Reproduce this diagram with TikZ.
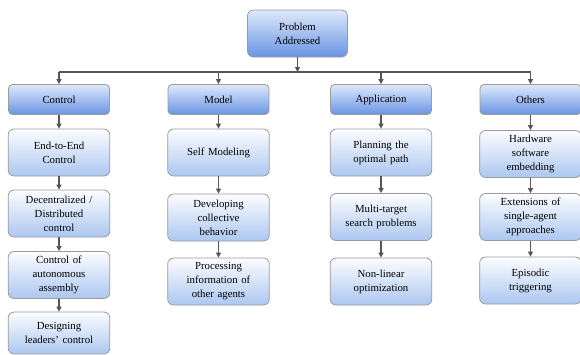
\documentclass[tikz,border=0pt]{standalone}
\usepackage{fontspec}
\setmainfont{Liberation Serif}
\usepackage{tikz}
\usetikzlibrary{arrows.meta, positioning, calc}
\definecolor{boxline}{RGB}{155, 155, 155}
\definecolor{arrowgray}{RGB}{85, 85, 85}
\definecolor{cattop}{RGB}{222, 233, 250}
\definecolor{catbot}{RGB}{105, 148, 228}
\definecolor{itemtop}{RGB}{252, 253, 255}
\definecolor{itembot}{RGB}{172, 199, 240}

\begin{document}
\begin{tikzpicture}[x=1pt, y=-1pt,
        catbox/.style={draw=boxline, line width=0.8pt, rounded corners=4pt, top color=cattop, bottom color=catbot, minimum width=101pt, minimum height=30pt, align=center, font=\fontsize{10.8}{14}\selectfont},
        itembox/.style={draw=boxline, line width=0.8pt, rounded corners=6pt, top color=itemtop, bottom color=itembot, minimum width=101pt, minimum height=47pt, text width=95pt, align=center, font=\fontsize{10.8}{14}\selectfont},
        link/.style={draw=arrowgray, line width=1.1pt, -{Triangle[length=5pt, width=5pt]}}]
        \useasboundingbox (0,0) rectangle (580,354);

        % Root
        \node[catbox, minimum width=100pt, minimum height=47pt, rounded corners=6pt] (root) at (297.5,33.5) {Problem\\Addressed};
        \coordinate (jn) at (297.5,72);

        % Categories
        \node[catbox] (control) at (59,99.5) {Control};
        \node[catbox] (model) at (218.5,99.5) {Model};
        \node[catbox] (appl) at (381,99.5) {Application};
        \node[catbox] (others) at (530.5,99.5) {Others};

        % Control column
        \node[itembox] (c1) at (59,152.5) {End-to-End\\Control};
        \node[itembox] (c2) at (59,213.5) {Decentralized /\\Distributed\\control};
        \node[itembox] (c3) at (59,275) {Control of\\autonomous\\assembly};
        \node[itembox, minimum height=42pt] (c4) at (59,333) {Designing\\leaders' control};

        % Model column
        \node[itembox] (m1) at (218.5,152.5) {Self Modeling};
        \node[itembox] (m2) at (218.5,217.5) {Developing\\collective\\behavior};
        \node[itembox] (m3) at (218.5,281.5) {Processing\\information of\\other agents};

        % Application column
        \node[itembox] (a1) at (381,152.5) {Planning the\\optimal path};
        \node[itembox] (a2) at (381,217) {Multi-target\\search problems};
        \node[itembox] (a3) at (381,281.5) {Non-linear\\optimization};

        % Others column
        \node[itembox] (o1) at (530.5,154) {Hardware\\software\\embedding};
        \node[itembox] (o2) at (530.5,217) {Extensions of\\single-agent\\approaches};
        \node[itembox] (o3) at (530.5,280.5) {Episodic\\triggering};

        % Tree links
        \draw[link] (root) -- (jn);
        \draw[draw=arrowgray, line width=1.1pt] (control |- jn) -- (others |- jn);
        \foreach \c in {control, model, appl, others}
            \draw[link] (\c |- jn) -- (\c);

        % Column links
        \foreach \u/\v in {control/c1, c1/c2, c2/c3, c3/c4, model/m1, m1/m2, m2/m3, appl/a1, a1/a2, a2/a3, others/o1, o1/o2, o2/o3}
            \draw[link] (\u) -- (\v);
    \end{tikzpicture}
\end{document}
